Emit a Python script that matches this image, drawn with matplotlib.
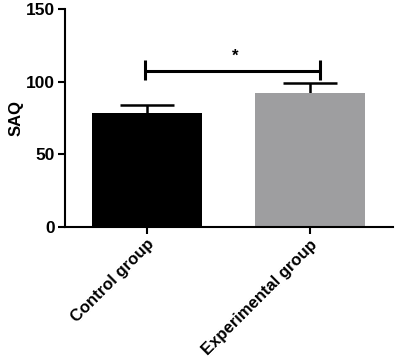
import matplotlib
matplotlib.use("Agg")
import matplotlib.pyplot as plt

categories = ["Control group", "Experimental group"]
means = [78.4, 92.0]
errors = [5.8, 7.3]
bar_colors = ["#000000", "#9e9ea0"]
bracket_y = 107.6
bracket_tick = [101.2, 114.8]
sig_label = "*"

plt.rcParams['font.family'] = ['Liberation Sans', 'DejaVu Sans']
fig = plt.figure(figsize=(3.96, 3.58), dpi=100)
ax = fig.add_axes([65/396, 1-227/358, (393-65)/396, (227-9)/358])

x = list(range(len(categories)))
_, caplines, _ = ax.errorbar(x, means, yerr=[[0]*len(errors), errors], fmt='none', ecolor='black',
                             elinewidth=1.8, capsize=19.4, capthick=1.8, zorder=1)
for cl in caplines:
    yd = list(cl.get_ydata())
    if all(abs(a - b) < 1e-9 for a, b in zip(yd, means)):
        cl.set_visible(False)
ax.bar(x, means, width=0.68, color=bar_colors, zorder=2)

ax.plot([x[0]-0.012, x[1]+0.06], [bracket_y, bracket_y], color='black', lw=2.2, solid_capstyle='butt')
ax.vlines([x[0]-0.012, x[1]+0.06], bracket_tick[0], bracket_tick[1], color='black', lw=2.2)
ax.text(0.54, bracket_y + 5, sig_label, ha='center', va='bottom', fontsize=12, fontweight='bold')

ax.set_xlim(-0.503, 1.509)
ax.set_ylim(0, 150)
ax.set_yticks([0, 50, 100, 150])
ax.set_xticks(x)
ax.set_xticklabels(categories, rotation=45, ha='right', rotation_mode='anchor',
                   fontsize=12, fontweight='bold')
for lbl in ax.get_yticklabels():
    lbl.set_fontweight('bold')
    lbl.set_fontsize(12.5)
ax.set_ylabel("SAQ", fontsize=12, fontweight='bold', labelpad=2)
for s in ['top', 'right']:
    ax.spines[s].set_visible(False)
for s in ['left', 'bottom']:
    ax.spines[s].set_linewidth(1.5)
ax.tick_params(axis='both', width=1.5, length=5, pad=2)

fig.savefig("out.png", dpi=100)
